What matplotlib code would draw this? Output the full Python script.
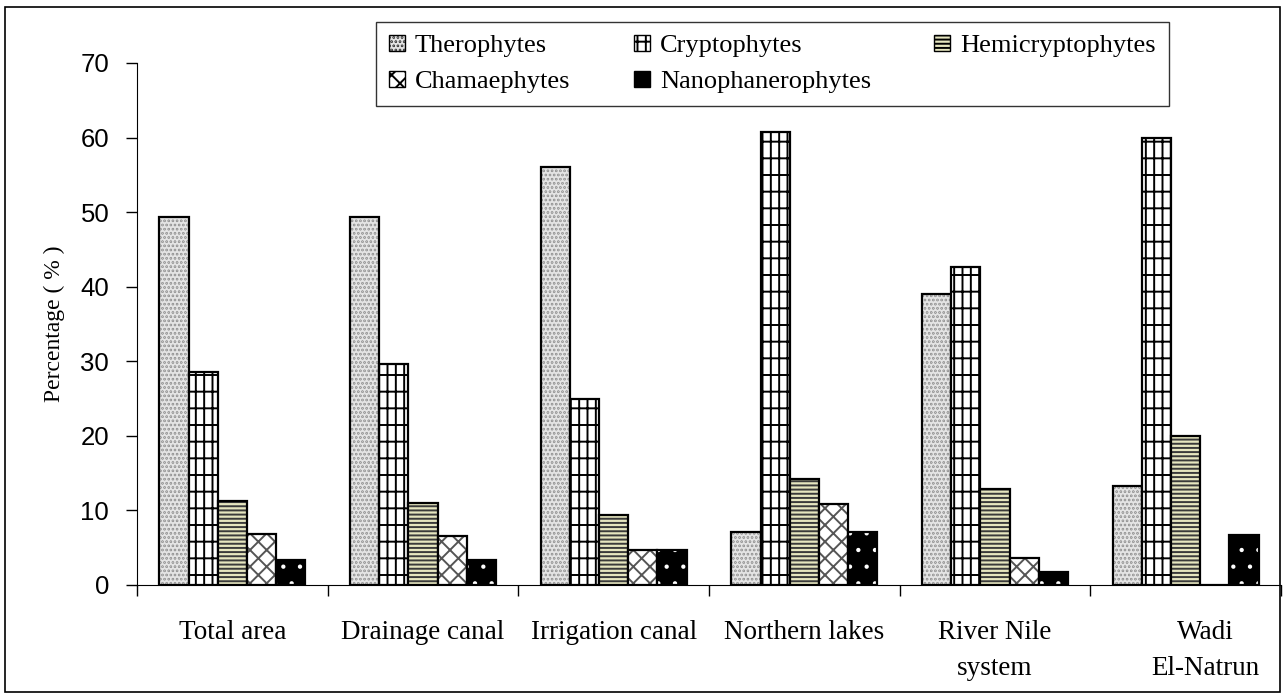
import matplotlib
matplotlib.use("Agg")
import matplotlib.pyplot as plt
import matplotlib.hatch
import numpy as np
from matplotlib.patches import Patch, Rectangle
from matplotlib.transforms import ScaledTranslation

categories = ["Total area", "Drainage canal", "Irrigation canal", "Northern lakes",
              "River Nile\nsystem", "Wadi\nEl-Natrun"]
series = ["Therophytes", "Cryptophytes", "Hemicryptophytes", "Chamaephytes",
          "Nanophanerophytes"]
therophytes = [49.4, 49.4, 56.0, 7.1, 39.0, 13.3]
cryptophytes = [28.6, 29.7, 25.0, 60.8, 42.6, 60.0]
hemicryptophytes = [11.3, 11.0, 9.4, 14.2, 12.9, 20.0]
chamaephytes = [6.8, 6.6, 4.7, 10.8, 3.6, 0.0]
nanophanerophytes = [3.4, 3.4, 4.7, 7.1, 1.8, 6.7]
yticks = [0, 10, 20, 30, 40, 50, 60, 70]

values = [therophytes, cryptophytes, hemicryptophytes, chamaephytes, nanophanerophytes]
# face colour, hatch colour, hatch pattern
styles = [("#e4e4e4", "#7a7a7a", "...."),
          ("white", "black", "||-"),
          ("#e6e6bf", "#3a3a3a", "----"),
          ("white", "#555555", "xx"),
          ("black", "white", ".")]

plt.rcParams["hatch.linewidth"] = 1.4
matplotlib.hatch.SmallFilledCircles.size = 0.07
serif = "Liberation Serif"
sans = "Liberation Sans"

fig = plt.figure(figsize=(12.83, 6.93), dpi=100)
ax = fig.add_axes([137 / 1283, 1 - 585 / 693, 1 - 137 / 1283 - 2 / 1283, (585 - 63) / 693])

x = np.arange(len(categories))
w = 0.153
for i, (vals, (face, hcol, hatch)) in enumerate(zip(values, styles)):
    pos = x + (i - 2) * w
    ax.bar(pos, vals, w, color=face, edgecolor=hcol, hatch=hatch, linewidth=0)
    ax.bar(pos, vals, w, fill=False, edgecolor="black", linewidth=1.6)

ax.set_xlim(-0.5, len(categories) - 0.5)
ax.set_ylim(0, 70)
ax.set_yticks(yticks)
ax.tick_params(axis="y", direction="out", length=8, width=1, labelsize=18.5, pad=12)
for lab in ax.get_yticklabels():
    lab.set_fontfamily(sans)

ax.set_xticks(x)
ax.set_xticklabels(categories, fontfamily=serif, fontsize=19.5, linespacing=1.6)
ax.set_xticks(np.arange(len(categories) + 1) - 0.5, minor=True)
ax.tick_params(axis="x", which="major", length=0, pad=25)
ax.tick_params(axis="x", which="minor", direction="out", length=8, width=1)
# last label overflows to the right in the original
last = ax.get_xticklabels()[-1]
last.set_transform(last.get_transform() + ScaledTranslation(0.2, 0, fig.dpi_scale_trans))

ax.spines["top"].set_visible(False)
ax.spines["right"].set_visible(False)
ax.set_ylabel("Percentage ( % )", fontfamily=serif, fontsize=17, labelpad=11)

handles = []
for name, (face, hcol, hatch) in zip(series, styles):
    handles.append(Patch(facecolor=face, edgecolor="black", hatch=hatch, label=name))
order = [0, 3, 1, 4, 2]
leg = fig.legend([handles[k] for k in order], [series[k] for k in order],
                 loc="upper left", bbox_to_anchor=(376 / 1283, 1 - 22 / 693),
                 ncol=3, frameon=True, fancybox=False,
                 edgecolor="black", prop={"family": serif, "size": 19},
                 handlelength=0.6, handleheight=0.55, handletextpad=0.38,
                 columnspacing=2.4, labelspacing=0.5, borderpad=0.5, borderaxespad=0)
leg.get_frame().set_linewidth(1.0)

fig.patches.append(Rectangle((5 / 1283, 1 / 693), 1275 / 1283, 685 / 693,
                             transform=fig.transFigure, fill=False,
                             edgecolor="black", linewidth=1.2))

fig.savefig("out.png", dpi=100)
